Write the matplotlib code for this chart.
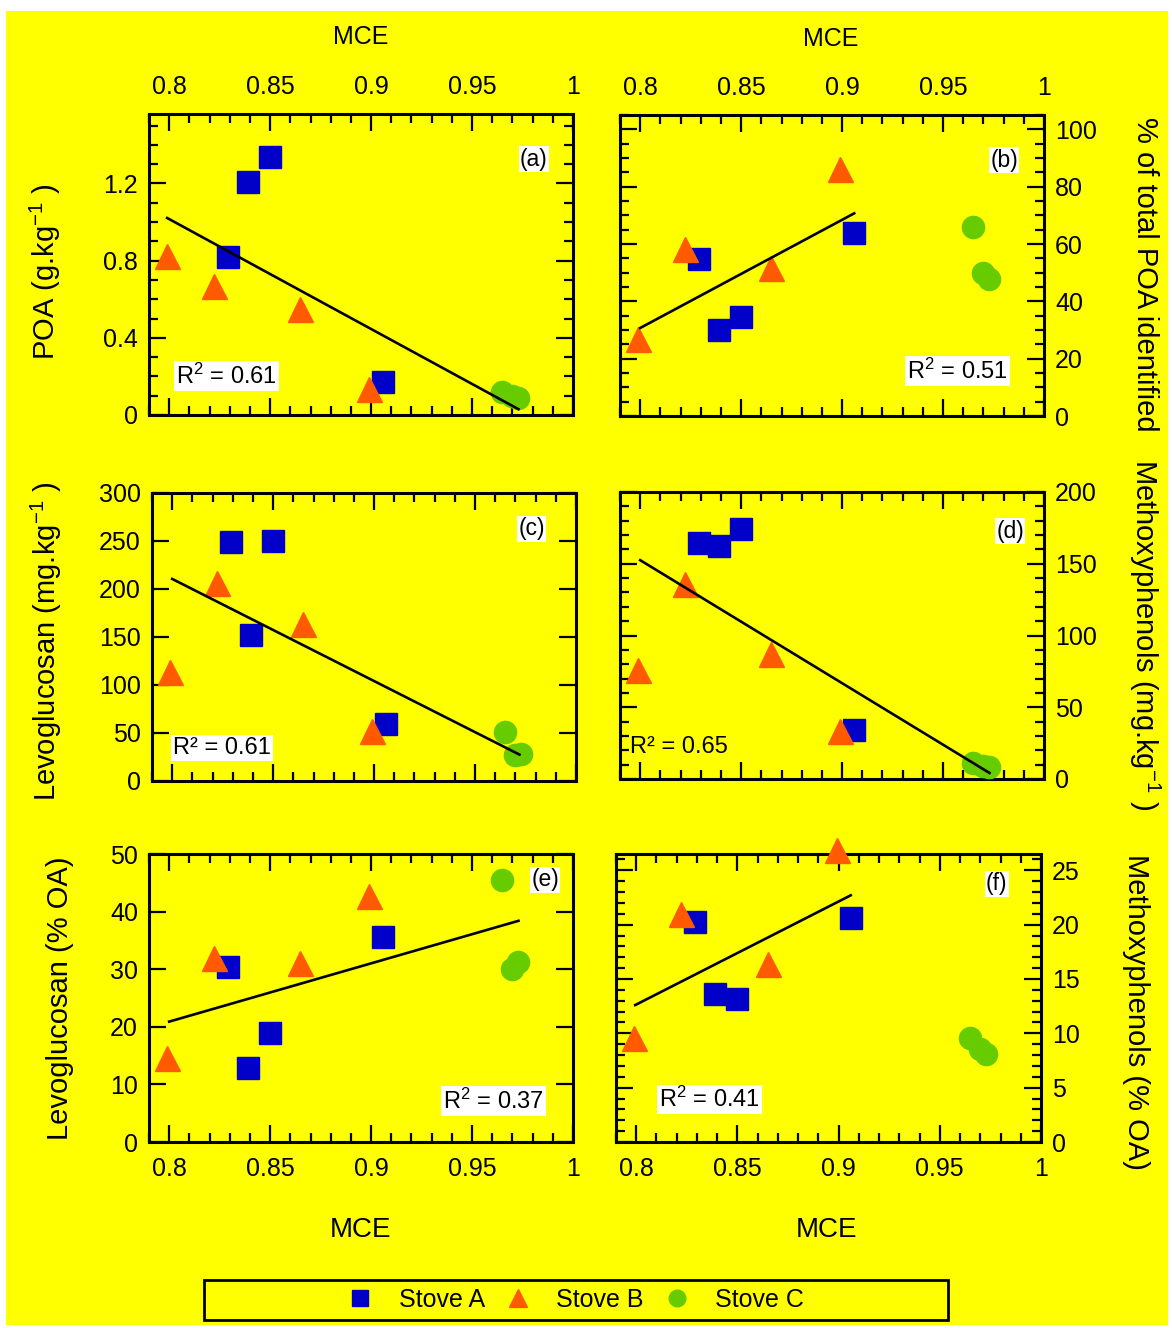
import matplotlib
matplotlib.use("Agg")
import matplotlib.pyplot as plt
from matplotlib.patches import Rectangle
from matplotlib.ticker import MultipleLocator, FuncFormatter

plt.rcParams['font.family'] = ['Liberation Sans', 'DejaVu Sans']
plt.rcParams['mathtext.fontset'] = 'custom'
plt.rcParams['mathtext.rm'] = 'Liberation Sans'
plt.rcParams['mathtext.it'] = 'Liberation Sans:italic'
plt.rcParams['mathtext.bf'] = 'Liberation Sans:bold'

W, H = 1172, 1328

# MCE values per stove (x axis)
mce_a = [0.850, 0.839, 0.829, 0.906]
mce_b = [0.799, 0.822, 0.865, 0.899]
mce_c = [0.965, 0.970, 0.973]

# (a) POA g/kg
poa_a = [1.337, 1.207, 0.821, 0.169]
poa_b = [0.826, 0.671, 0.550, 0.134]
poa_c = [0.117, 0.100, 0.090]
poa_fit_x, poa_fit_y = [0.799, 0.973], [1.021, 0.030]

# (b) % of total POA identified
pct_a = [34.5, 29.9, 54.9, 64.0]
pct_b = [26.7, 58.1, 51.6, 86.0]
pct_c = [65.9, 50.0, 47.9]
pct_fit_x, pct_fit_y = [0.800, 0.906], [30.7, 70.7]

# (c) levoglucosan mg/kg
lev_a = [250, 152.6, 249, 59.6]
lev_b = [114, 206, 163.5, 52.6]
lev_c = [51.2, 27.5, 28.0]
lev_fit_x, lev_fit_y = [0.800, 0.972], [210.5, 27.5]

# (d) methoxyphenols mg/kg
mxp_a = [174.3, 162.5, 164.8, 34.3]
mxp_b = [75.8, 135.6, 87.4, 33.4]
mxp_c = [11.0, 9.0, 8.3]
mxp_fit_x, mxp_fit_y = [0.800, 0.973], [152.5, 4.2]

# (e) levoglucosan % OA
levoa_a = [18.9, 12.9, 30.4, 35.6]
levoa_b = [14.5, 32.0, 31.0, 42.7]
levoa_c = [45.4, 30.1, 31.3]
levoa_fit_x, levoa_fit_y = [0.800, 0.973], [20.9, 38.4]

# (f) methoxyphenols % OA
mxpoa_a = [13.2, 13.6, 20.2, 20.6]
mxpoa_b = [9.55, 20.95, 16.4, 26.9]
mxpoa_c = [9.6, 8.6, 8.1]
mxpoa_fit_x, mxpoa_fit_y = [0.7995, 0.906], [12.6, 22.7]

blue, orange, green = '#0000C8', '#FF5A00', '#66CC00'


def place(l, t, r, b):
    return [l / W, 1 - b / H, (r - l) / W, (b - t) / H]


fig = plt.figure(figsize=(W / 100, H / 100), dpi=100)
fig.patch.set_facecolor('white')
fig.add_artist(Rectangle((6 / W, 1 - 1325 / H), (1168 - 6) / W, (1325 - 11) / H,
                         transform=fig.transFigure, facecolor='#FFFF00',
                         edgecolor='none', zorder=-10))

panels = [
    # data, fit, box, ylim, major, minor, side, xlabels, panel, r2 text, r2 pos, white box, tag pos
    (poa_a, poa_b, poa_c, poa_fit_x, poa_fit_y, (149, 114, 573, 415), 1.56, 0.4, 0.1,
     'left', 'top', '(a)', 'R$^2$ = 0.61', (0.064, 0.13), True, (0.908, 0.85)),
    (pct_a, pct_b, pct_c, pct_fit_x, pct_fit_y, (620, 115, 1044, 416), 105, 20, 5,
     'right', 'top', '(b)', 'R$^2$ = 0.51', (0.677, 0.15), True, (0.906, 0.85)),
    (lev_a, lev_b, lev_c, lev_fit_x, lev_fit_y, (152, 493, 576, 781), 300, 50, None,
     'left', None, '(c)', 'R² = 0.61', (0.05, 0.115), True, (0.895, 0.875)),
    (mxp_a, mxp_b, mxp_c, mxp_fit_x, mxp_fit_y, (620, 492, 1044, 779), 200, 50, 10,
     'right', None, '(d)', 'R² = 0.65', (0.024, 0.111), False, (0.92, 0.864)),
    (levoa_a, levoa_b, levoa_c, levoa_fit_x, levoa_fit_y, (149, 854, 573, 1142), 50, 10, None,
     'left', 'bottom', '(e)', 'R$^2$ = 0.37', (0.693, 0.142), True, (0.934, 0.91)),
    (mxpoa_a, mxpoa_b, mxpoa_c, mxpoa_fit_x, mxpoa_fit_y, (616, 854, 1041, 1142), 26.5, 5, 1,
     'right', 'bottom', '(f)', 'R$^2$ = 0.41', (0.101, 0.148), True, (0.896, 0.896)),
]

fmt = FuncFormatter(lambda v, p: '%g' % round(v, 4))
handles = None

for (ya, yb, yc, fx, fy, box, ytop, major, minor, side, xlab, tag, r2, r2pos,
     r2box, tagpos) in panels:
    ax = fig.add_axes(place(*box))
    ax.set_facecolor('#FFFF00')
    ha_ = ax.plot(mce_a, ya, ls='none', marker='s', ms=16, color=blue, mec=blue,
                  clip_on=False, zorder=3, label='Stove A')[0]
    hb_ = ax.plot(mce_b, yb, ls='none', marker='^', ms=18, color=orange, mec=orange,
                  clip_on=False, zorder=3, label='Stove B')[0]
    hc_ = ax.plot(mce_c, yc, ls='none', marker='o', ms=16, color=green, mec=green,
                  clip_on=False, zorder=3, label='Stove C')[0]
    if handles is None:
        handles = [ha_, hb_, hc_]
    ax.plot(fx, fy, color='black', lw=1.9, zorder=4)

    ax.set_xlim(0.79, 1.0)
    ax.set_ylim(0, ytop)
    ax.xaxis.set_major_locator(MultipleLocator(0.05))
    ax.xaxis.set_minor_locator(MultipleLocator(0.01))
    ax.yaxis.set_major_locator(MultipleLocator(major))
    if minor:
        ax.yaxis.set_minor_locator(MultipleLocator(minor))
    ax.xaxis.set_major_formatter(fmt)
    ax.yaxis.set_major_formatter(fmt)
    for s in ax.spines.values():
        s.set_linewidth(2.2)
    ax.tick_params(which='both', direction='in', top=True, bottom=True, left=True,
                   right=True, width=1.6, labelsize=18,
                   labeltop=(xlab == 'top'), labelbottom=(xlab == 'bottom'),
                   labelleft=(side == 'left'), labelright=(side == 'right'))
    ax.tick_params(which='major', length=12)
    ax.tick_params(which='minor', length=6.5)
    ax.tick_params(axis='x', pad=11)
    ax.tick_params(axis='y', pad=8)

    bb = dict(facecolor='white', edgecolor='none', pad=1.5) if r2box else None
    ax.text(r2pos[0], r2pos[1], r2, transform=ax.transAxes, fontsize=17,
            ha='left', va='center', bbox=bb, zorder=5)
    ax.text(tagpos[0], tagpos[1], tag, transform=ax.transAxes, fontsize=16.5,
            ha='center', va='center', zorder=5,
            bbox=dict(facecolor='white', edgecolor='none', pad=1))

# axis labels
def ftext(x, y, s, **kw):
    fig.text(x / W, 1 - y / H, s, ha='center', va='center', **kw)

ftext(45, 272, 'POA (g.kg$^{-1}$ )', rotation=90, fontsize=21)
ftext(46, 641, 'Levoglucosan (mg.kg$^{-1}$ )', rotation=90, fontsize=21)
ftext(60, 998, 'Levoglucosan (% OA)', rotation=90, fontsize=21)
ftext(1145, 274, '% of total POA identified', rotation=-90, fontsize=21)
ftext(1145, 635, 'Methoxyphenols (mg.kg$^{-1}$ )', rotation=-90, fontsize=21)
ftext(1136, 1012, 'Methoxyphenols (% OA)', rotation=-90, fontsize=21)
ftext(361, 37, 'MCE', fontsize=18)
ftext(831, 39, 'MCE', fontsize=18)
ftext(361, 1230, 'MCE', fontsize=20)
ftext(827, 1230, 'MCE', fontsize=20)

# legend
fig.add_artist(Rectangle((204 / W, 1 - 1320 / H), (948 - 204) / W, 40 / H,
                         transform=fig.transFigure, facecolor='#FFFF00',
                         edgecolor='black', lw=2))
fig.legend(handles=handles, loc='center', bbox_to_anchor=(576 / W, 1 - 1300 / H),
           ncol=3, frameon=False, fontsize=18, numpoints=1, handlelength=1.0,
           handletextpad=1.05, columnspacing=0.8, markerscale=0.75)

fig.savefig('out.png', dpi=100, facecolor=fig.get_facecolor())
